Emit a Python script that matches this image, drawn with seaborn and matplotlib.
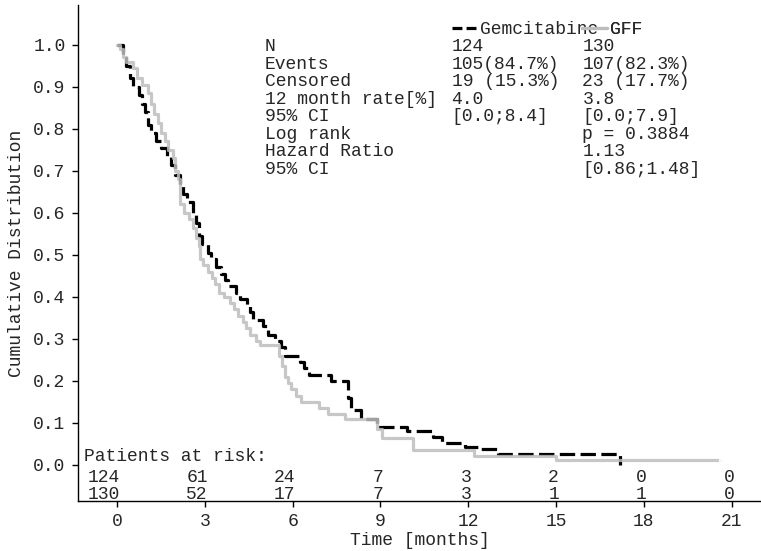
import matplotlib
matplotlib.use("Agg")
import matplotlib.pyplot as plt
import seaborn as sns
import pandas as pd
from matplotlib.lines import Line2D

# ---------------- data ----------------
gem_t = [0, 0.2, 0.3, 0.45, 0.55, 0.75, 0.85, 0.95, 1.05, 1.15, 1.35, 1.5, 1.7, 1.85,
         2.0, 2.15, 2.25, 2.4, 2.6, 2.7, 2.8, 2.9, 3.1, 3.2, 3.4, 3.55, 3.7, 3.8, 4.05,
         4.2, 4.45, 4.55, 4.65, 5.0, 5.15, 5.4, 5.6, 5.75, 6.25, 6.4, 6.55, 7.3, 7.9,
         8.0, 8.35, 8.9, 9.9, 10.8, 11.1, 11.9, 12.4, 13.0, 17.2]
gem_s = [1.0, 0.98, 0.95, 0.92, 0.90, 0.88, 0.86, 0.84, 0.81, 0.79, 0.77, 0.755, 0.735,
         0.715, 0.69, 0.665, 0.645, 0.625, 0.60, 0.575, 0.545, 0.525, 0.505, 0.49, 0.47,
         0.455, 0.44, 0.425, 0.41, 0.395, 0.38, 0.365, 0.345, 0.33, 0.31, 0.295, 0.28,
         0.26, 0.245, 0.23, 0.215, 0.20, 0.16, 0.13, 0.11, 0.09, 0.08, 0.067, 0.052,
         0.043, 0.038, 0.025, 0.0]

gff_t = [0, 0.1, 0.2, 0.3, 0.55, 0.7, 0.85, 1.05, 1.15, 1.25, 1.4, 1.5, 1.65, 1.75, 1.9,
         2.0, 2.1, 2.15, 2.3, 2.45, 2.6, 2.7, 2.8, 2.85, 2.95, 3.1, 3.25, 3.35, 3.5, 3.65,
         3.85, 4.0, 4.15, 4.3, 4.4, 4.55, 4.75, 4.9, 5.55, 5.65, 5.75, 5.85, 5.95, 6.1,
         6.3, 6.9, 7.2, 7.8, 8.9, 9.05, 10.1, 12.2, 15.0, 20.6]
gff_s = [1.0, 0.99, 0.97, 0.96, 0.945, 0.92, 0.905, 0.885, 0.86, 0.835, 0.815, 0.79, 0.77,
         0.75, 0.73, 0.70, 0.68, 0.62, 0.60, 0.585, 0.565, 0.54, 0.52, 0.49, 0.475, 0.46,
         0.445, 0.43, 0.41, 0.40, 0.385, 0.37, 0.355, 0.34, 0.325, 0.31, 0.295, 0.285,
         0.26, 0.235, 0.21, 0.195, 0.18, 0.165, 0.15, 0.135, 0.12, 0.11, 0.085, 0.065,
         0.036, 0.021, 0.011, 0.011]

risk_times = [0, 3, 6, 9, 12, 15, 18, 21]
risk_gem = [124, 61, 24, 7, 3, 2, 0, 0]
risk_gff = [130, 52, 17, 7, 3, 1, 1, 0]

group_names = ["Gemcitabine", "GFF"]
row_labels = ["N", "Events", "Censored", "12 month rate[%]", "95% CI",
              "Log rank", "Hazard Ratio", "95% CI"]
col_gem = ["124", "105(84.7%)", "19 (15.3%)", "4.0", "[0.0;8.4]", "", "", ""]
col_gff = ["130", "107(82.3%)", "23 (17.7%)", "3.8", "[0.0;7.9]",
           "p = 0.3884", "1.13", "[0.86;1.48]"]

# ---------------- style ----------------
sns.set_style("ticks")
plt.rcParams["font.family"] = ["Liberation Mono", "DejaVu Sans"]
plt.rcParams["font.size"] = 13

FS = 13
BLACK = "#000000"
GRAY = "#bdbdbd"

fig = plt.figure(figsize=(7.61, 5.51), dpi=100)
ax = fig.add_axes([78 / 761, 1 - 501 / 551, (761 - 78) / 761, (501 - 5) / 551])

df_gem = pd.DataFrame({"t": gem_t, "s": gem_s})
df_gff = pd.DataFrame({"t": gff_t, "s": gff_s})

sns.lineplot(data=df_gem, x="t", y="s", ax=ax, color=BLACK, lw=2.3,
             drawstyle="steps-post", estimator=None, sort=False)
ax.lines[-1].set_dashes([4.8, 1.7])
sns.lineplot(data=df_gff, x="t", y="s", ax=ax, color=GRAY, lw=2.3, alpha=0.85,
             drawstyle="steps-post", estimator=None, sort=False,
             marker="|", markevery=[len(gff_t) - 1], markersize=7, mew=2.3)

ax.set_xlim(-1.33, 22.0)
ax.set_ylim(-0.086, 1.095)
ax.set_xticks(risk_times)
ax.set_xticklabels([str(t) for t in risk_times])
ax.set_yticks([i / 10 for i in range(11)])
ax.set_yticklabels([f"{i / 10:.1f}" for i in range(11)])
ax.tick_params(axis="both", labelsize=FS, length=4, width=1, pad=5, color="black")
sns.despine(ax=ax)
for sp in ["left", "bottom"]:
    ax.spines[sp].set_linewidth(1.0)
    ax.spines[sp].set_color("black")

ax.set_xlabel("Time [months]", fontsize=FS, labelpad=1)
ax.set_ylabel("Cumulative Distribution", fontsize=FS, labelpad=6)

# ---------------- legend ----------------
h_gem = Line2D([], [], color=BLACK, lw=2.3, dashes=[3.1, 1.3])
h_gff = Line2D([], [], color=GRAY, lw=2.3)
y_leg = 1.036
for h, name, xs in [(h_gem, group_names[0], 11.43), (h_gff, group_names[1], 15.9)]:
    leg = ax.legend(handles=[h], labels=[name], loc="center left",
                    bbox_to_anchor=(xs, y_leg), bbox_transform=ax.transData,
                    frameon=False, fontsize=FS, handlelength=1.35,
                    handletextpad=0.2, borderpad=0, borderaxespad=0)
    ax.add_artist(leg)

# ---------------- statistics table ----------------
row_y0 = 0.995
row_dy = 0.0415
for i, (lab, a, b) in enumerate(zip(row_labels, col_gem, col_gff)):
    y = row_y0 - i * row_dy
    ax.text(5.05, y, lab, fontsize=FS, va="center", ha="left")
    ax.text(11.43, y, a, fontsize=FS, va="center", ha="left")
    ax.text(15.9, y, b, fontsize=FS, va="center", ha="left")

# ---------------- risk table ----------------
ax.text(-1.13, 0.019, "Patients at risk:", fontsize=FS, va="center", ha="left")
for t, a, b in zip(risk_times, risk_gem, risk_gff):
    ax.text(t + 0.1, -0.031, str(a), fontsize=FS, va="center", ha="right")
    ax.text(t + 0.1, -0.070, str(b), fontsize=FS, va="center", ha="right")

fig.savefig("out.png", dpi=100)
